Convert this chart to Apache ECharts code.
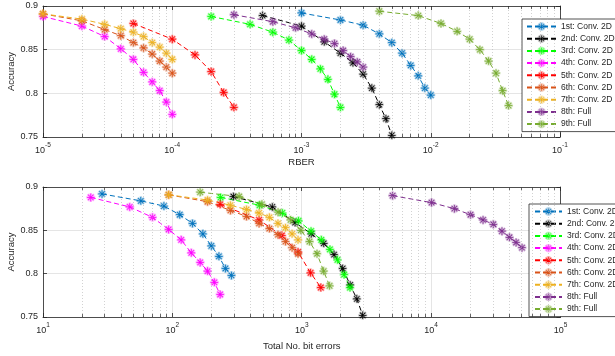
<!DOCTYPE html>
<html>
<head>
<meta charset="utf-8">
<script src="https://cdn.jsdelivr.net/npm/echarts@6/dist/echarts.min.js"></script>
<style>
html, body { margin: 0; padding: 0; background: #fff; }
#chart { width: 615px; height: 356px; }
</style>
</head>
<body>
<div id="chart"></div>
<script>
// series names and colours (matlab default order)
var names = ['1st: Conv. 2D', '2nd: Conv. 2D', '3rd: Conv. 2D', '4th: Conv. 2D', '5th: Conv. 2D',
	'6th: Conv. 2D', '7th: Conv. 2D', '8th: Full', '9th: Full'];
var colors = ['#0072BD', '#000000', '#00FF00', '#FF00FF', '#FF0000', '#D95319', '#EDB120', '#7E2F8E', '#77AC30'];
var halos = ['rgba(0,114,189,0.35)', 'rgba(0,0,0,0.25)', 'rgba(0,255,0,0.35)', 'rgba(255,0,255,0.35)',
	'rgba(255,0,0,0.35)', 'rgba(217,83,25,0.35)', 'rgba(237,177,32,0.35)', 'rgba(126,47,142,0.35)', 'rgba(119,172,48,0.35)'];

// top: RBER
var rber1 = [0.001, 0.002, 0.003, 0.004, 0.005, 0.006, 0.007, 0.008, 0.009, 0.01];
var rber2 = [0.0005, 0.001, 0.0015, 0.002, 0.0025, 0.003, 0.0035, 0.004, 0.0045, 0.005];
var rber3 = [0.0002, 0.0004, 0.0006, 0.0008, 0.001, 0.0012, 0.0014, 0.0016, 0.0018, 0.002];
var rber4 = [1e-5, 2e-5, 3e-5, 4e-5, 5e-5, 6e-5, 7e-5, 8e-5, 9e-5, 1e-4];
var rber5 = [5e-5, 1e-4, 1.5e-4, 2e-4, 2.5e-4, 3e-4];
var rber6 = [1e-5, 2e-5, 3e-5, 4e-5, 5e-5, 6e-5, 7e-5, 8e-5, 9e-5, 1e-4];
var rber7 = [1e-5, 2e-5, 3e-5, 4e-5, 5e-5, 6e-5, 7e-5, 8e-5, 9e-5, 1e-4];
var rber8 = [0.0003, 0.0006, 0.0009, 0.0012, 0.0015, 0.0018, 0.0021, 0.0024, 0.0027, 0.003];
var rber9 = [0.004, 0.008, 0.012, 0.016, 0.02, 0.024, 0.028, 0.032, 0.036, 0.04];

// bottom: total number of bit errors
var bits1 = [28.6, 57, 86, 114, 143, 172, 200, 229, 257, 286];
var bits2 = [296, 592, 888, 1184, 1480, 1776, 2072, 2368, 2664, 2960];
var bits3 = [236, 472, 708, 944, 1180, 1416, 1652, 1888, 2124, 2360];
var bits4 = [23.4, 46.8, 70.2, 93.6, 117, 140, 164, 187, 211, 234];
var bits5 = [234, 468, 702, 936, 1170, 1404];
var bits6 = [93.6, 187, 281, 374, 468, 562, 655, 749, 842, 936];
var bits7 = [93.6, 187, 281, 374, 468, 562, 655, 749, 842, 936];
var bits8 = [5040, 10080, 15120, 20160, 25200, 30240, 35280, 40320, 45360, 50400];
var bits9 = [164, 328, 492, 656, 820, 984, 1148, 1312, 1476, 1640];

// accuracy (same for both plots)
var acc1 = [0.892, 0.884, 0.878, 0.868, 0.858, 0.846, 0.832, 0.820, 0.806, 0.798];
var acc2 = [0.889, 0.877, 0.859, 0.846, 0.835, 0.822, 0.806, 0.787, 0.771, 0.752];
var acc3 = [0.888, 0.879, 0.870, 0.861, 0.849, 0.839, 0.828, 0.816, 0.799, 0.784];
var acc4 = [0.888, 0.877, 0.865, 0.851, 0.839, 0.824, 0.813, 0.803, 0.790, 0.776];
var acc5 = [0.880, 0.862, 0.844, 0.825, 0.801, 0.784];
var acc6 = [0.891, 0.883, 0.873, 0.866, 0.858, 0.852, 0.845, 0.837, 0.830, 0.823];
var acc7 = [0.891, 0.885, 0.879, 0.874, 0.870, 0.865, 0.858, 0.853, 0.846, 0.839];
var acc8 = [0.890, 0.882, 0.875, 0.868, 0.862, 0.857, 0.849, 0.842, 0.836, 0.830];
var acc9 = [0.894, 0.889, 0.880, 0.871, 0.862, 0.850, 0.837, 0.823, 0.803, 0.786];

var rbers = [rber1, rber2, rber3, rber4, rber5, rber6, rber7, rber8, rber9];
var bits = [bits1, bits2, bits3, bits4, bits5, bits6, bits7, bits8, bits9];
var accs = [acc1, acc2, acc3, acc4, acc5, acc6, acc7, acc8, acc9];

// asterisk marker, 4 bars with same winding
var ASTER = 'path://M-1,-10L1,-10L1,10L-1,10Z M-10,-1L10,-1L10,1L-10,1Z ' +
	'M-7.78,-6.36L-6.36,-7.78L7.78,6.36L6.36,7.78Z M-6.36,7.78L-7.78,6.36L6.36,-7.78L7.78,-6.36Z';

var FONT = '"Liberation Sans", Arial, sans-serif';
var INK = '#262626';

function minorVals(lo, hi) {
	var out = [];
	for (var d = lo; d < hi; d++) {
		for (var k = 2; k <= 9; k++) out.push(k * Math.pow(10, d));
	}
	return out;
}

function logLabel(v) {
	var e = Math.round(Math.log(v) / Math.LN10);
	return '{b|10}{e|' + e + '}';
}

function xAxisPair(gi, min, max, name, gap) {
	return [{
		type: 'log', logBase: 10, gridIndex: gi, min: min, max: max, position: 'bottom',
		name: name, nameLocation: 'middle', nameGap: gap, nameMoveOverlap: false,
		nameTextStyle: { fontFamily: FONT, fontSize: 9.5, color: INK },
		axisLine: { show: true, lineStyle: { color: INK, width: 0.8 } },
		axisTick: { show: true, inside: true, length: 4, lineStyle: { color: INK, width: 0.8 } },
		axisLabel: {
			margin: 5, formatter: logLabel,
			rich: {
				b: { fontFamily: FONT, fontSize: 9, color: INK, lineHeight: 13, verticalAlign: 'bottom' },
				e: { fontFamily: FONT, fontSize: 6.5, color: INK, lineHeight: 13, verticalAlign: 'top' }
			}
		},
		splitLine: { show: true, lineStyle: { color: '#dedede', width: 0.8 } }
	}, {
		type: 'log', logBase: 10, gridIndex: gi, min: min, max: max, position: 'top',
		axisLine: { show: true, lineStyle: { color: INK, width: 0.8 } },
		axisTick: { show: true, inside: true, length: 4, lineStyle: { color: INK, width: 0.8 } },
		axisLabel: { show: false },
		splitLine: { show: false }
	}];
}

function yAxisPair(gi) {
	return [{
		type: 'value', gridIndex: gi, min: 0.75, max: 0.9, interval: 0.05, position: 'left',
		name: 'Accuracy', nameLocation: 'middle', nameGap: 27, nameMoveOverlap: false,
		nameTextStyle: { fontFamily: FONT, fontSize: 9.5, color: INK },
		axisLine: { show: true, lineStyle: { color: INK, width: 0.8 } },
		axisTick: { show: true, inside: true, length: 4, lineStyle: { color: INK, width: 0.8 } },
		axisLabel: { fontFamily: FONT, fontSize: 9, color: INK, margin: 5 },
		splitLine: { show: true, lineStyle: { color: '#dedede', width: 0.8 } }
	}, {
		type: 'value', gridIndex: gi, min: 0.75, max: 0.9, interval: 0.05, position: 'right',
		axisLine: { show: true, lineStyle: { color: INK, width: 0.8 } },
		axisTick: { show: true, inside: true, length: 4, lineStyle: { color: INK, width: 0.8 } },
		axisLabel: { show: false },
		splitLine: { show: false }
	}];
}

// dotted minor grid + minor ticks, drawn as markLines on a helper series
function minorHelper(xi, yi, vals) {
	var data = [];
	vals.forEach(function(v) {
		data.push([{ coord: [v, 0.75] }, { coord: [v, 0.9] }]);
	});
	var ticks = [];
	vals.forEach(function(v) {
		ticks.push([{ coord: [v, 0.75] }, { coord: [v, 0.7535] }]);
		ticks.push([{ coord: [v, 0.9] }, { coord: [v, 0.8965] }]);
	});
	return [{
		type: 'line', name: '_minor' + xi, xAxisIndex: xi, yAxisIndex: yi, data: [], silent: true,
		markLine: {
			silent: true, symbol: 'none', animation: false, label: { show: false },
			lineStyle: { color: '#b4b4b4', width: 0.6, type: [1, 2] }, data: data
		}
	}, {
		type: 'line', name: '_mtick' + xi, xAxisIndex: xi, yAxisIndex: yi, data: [], silent: true,
		markLine: {
			silent: true, symbol: 'none', animation: false, label: { show: false },
			lineStyle: { color: INK, width: 0.7, type: 'solid' }, data: ticks
		}
	}];
}

var series = [];
series = series.concat(minorHelper(0, 0, minorVals(-5, -1)));
series = series.concat(minorHelper(2, 2, minorVals(1, 5)));

function addSeries(xi, yi, xs, i) {
	var d = xs.map(function(x, j) { return [x, accs[i][j]]; });
	series.push({
		name: names[i], type: 'line', xAxisIndex: xi, yAxisIndex: yi, data: d,
		symbol: ASTER, symbolSize: 7.5, showSymbol: true, clip: false, animation: false,
		lineStyle: { color: colors[i], width: 1, type: [5, 3] },
		itemStyle: { color: colors[i], borderColor: halos[i], borderWidth: 1.5 }
	});
}
for (var i = 0; i < 9; i++) addSeries(0, 0, rbers[i], i);
for (var i = 0; i < 9; i++) addSeries(2, 2, bits[i], i);

function legendAt(left, top, iw, padL) {
	return {
		orient: 'vertical', left: left, top: top, data: names,
		backgroundColor: '#fff', borderColor: INK, borderWidth: 0.8, borderRadius: 0,
		padding: [3, 4, 3, padL], itemGap: 3.2, itemWidth: iw, itemHeight: 8,
		textStyle: { fontFamily: FONT, fontSize: 8.5, color: INK },
		selectedMode: false
	};
}

var chart = echarts.init(document.getElementById('chart'), null, { renderer: 'canvas' });
chart.setOption({
	backgroundColor: '#fff',
	animation: false,
	grid: [
		{ left: 43, right: 55, top: 6, height: 131, outerBoundsMode: 'none', containLabel: false },
		{ left: 43, right: 54.5, top: 187, height: 130, outerBoundsMode: 'none', containLabel: false }
	],
	xAxis: xAxisPair(0, 1e-5, 1e-1, 'RBER', 20).concat(xAxisPair(1, 10, 1e5, 'Total No. bit errors', 24)),
	yAxis: yAxisPair(0).concat(yAxisPair(1)),
	legend: [legendAt(522, 19, 29, 4), legendAt(529, 204, 27, 5)],
	series: series
});
</script>
</body>
</html>
